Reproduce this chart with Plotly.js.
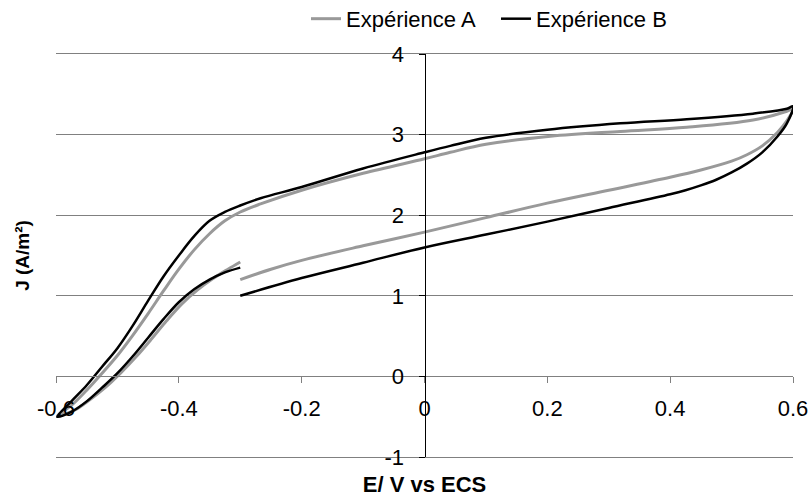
<!DOCTYPE html>
<html>
<head>
<meta charset="utf-8">
<script src="https://cdn.plot.ly/plotly-3.0.1.min.js"></script>
<style>html,body{margin:0;padding:0;background:#fff;}#chart{width:811px;height:497px;}</style>
</head>
<body>
<div id="chart"></div>
<script>
// Expérience A (gray): forward lower branch, return upper branch, forward lower-left
const E_A = [-0.30,-0.25,-0.20,-0.10,0.00,0.10,0.20,0.30,0.40,0.45,0.50,0.525,0.55,0.575,0.59,0.60,
  0.59,0.535,0.427,0.319,0.205,0.10,0.042,0.00,-0.10,-0.20,-0.267,-0.30,-0.325,-0.35,-0.375,-0.40,-0.425,-0.45,-0.475,-0.50,-0.525,-0.55,-0.575,-0.598,
  -0.57,-0.545,-0.52,-0.495,-0.47,-0.445,-0.42,-0.395,-0.37,-0.345,-0.32,-0.30];
const J_A = [1.20,1.33,1.44,1.62,1.79,1.97,2.15,2.31,2.47,2.56,2.67,2.75,2.86,3.03,3.17,3.32,
  3.29,3.18,3.09,3.04,2.98,2.88,2.78,2.70,2.52,2.31,2.14,2.04,1.93,1.77,1.57,1.33,1.06,0.78,0.51,0.26,0.04,-0.17,-0.36,-0.49,
  -0.42,-0.29,-0.14,0.04,0.24,0.46,0.69,0.90,1.07,1.21,1.33,1.42];
// Expérience B (black)
const E_B = [-0.30,-0.20,-0.10,0.00,0.10,0.20,0.30,0.40,0.425,0.45,0.475,0.50,0.525,0.55,0.575,0.59,0.60,
  0.59,0.535,0.427,0.319,0.20,0.10,0.042,0.00,-0.10,-0.20,-0.267,-0.30,-0.325,-0.35,-0.375,-0.40,-0.425,-0.45,-0.475,-0.50,-0.525,-0.55,-0.575,-0.598,
  -0.575,-0.55,-0.525,-0.50,-0.475,-0.45,-0.425,-0.40,-0.375,-0.35,-0.325,-0.30];
const J_B = [1.00,1.22,1.41,1.60,1.76,1.92,2.09,2.26,2.31,2.37,2.44,2.53,2.64,2.78,2.98,3.14,3.35,
  3.32,3.26,3.19,3.14,3.06,2.96,2.86,2.78,2.58,2.35,2.21,2.12,2.04,1.93,1.74,1.50,1.24,0.94,0.63,0.35,0.12,-0.11,-0.31,-0.50,
  -0.44,-0.31,-0.14,0.04,0.25,0.48,0.71,0.92,1.08,1.20,1.29,1.35];

const seriesNames = ['Expérience A', 'Expérience B'];
const xTickVals = [-0.6,-0.4,-0.2,0,0.2,0.4,0.6];
const xTickText = ['-0.6','-0.4','-0.2','0','0.2','0.4','0.6'];
const yTickVals = [-1,0,1,2,3,4];
const yTickText = ['-1','0','1','2','3','4'];
const xTitle = 'E/ V vs ECS';
const yTitle = 'J (A/m²)';
const xRange = [-0.6, 0.6];
const yRange = [-1, 4];

const FONT = 'Liberation Sans, Arial, sans-serif';

const traces = [
  {x: E_A, y: J_A, name: seriesNames[0], type: 'scatter', mode: 'lines', xaxis: 'x', yaxis: 'y',
   line: {color: '#999999', width: 3, shape: 'spline', smoothing: 1}},
  {x: E_B, y: J_B, name: seriesNames[1], type: 'scatter', mode: 'lines', xaxis: 'x2', yaxis: 'y2',
   line: {color: '#000000', width: 2.5, shape: 'spline', smoothing: 1}}
];

const layout = {
  width: 811, height: 497,
  margin: {l: 56, r: 18, t: 54, b: 40, autoexpand: false},
  paper_bgcolor: '#fff', plot_bgcolor: '#fff',
  font: {family: FONT, size: 22, color: '#000'},
  showlegend: true,
  legend: {orientation: 'h', x: 0.3392, xanchor: 'left', yref: 'container', y: 0.962, yanchor: 'middle',
           entrywidth: 145, font: {family: FONT, size: 22, color: '#000'}, bgcolor: 'rgba(0,0,0,0)'},
  xaxis: {range: xRange, showline: true, mirror: true, linecolor: '#808080', linewidth: 1,
          showgrid: false, zeroline: false, showticklabels: false, ticks: '',
          title: {text: '<b>' + xTitle + '</b>', font: {family: FONT, size: 22}, standoff: 20}},
  yaxis: {range: yRange, showline: false, zeroline: false, showticklabels: false, ticks: '',
          showgrid: true, gridcolor: '#808080', gridwidth: 1, tickvals: yTickVals,
          title: {text: '<b>' + yTitle + '</b>', font: {family: FONT, size: 19}, standoff: 20}},
  xaxis2: {overlaying: 'x', anchor: 'free', position: 0.2, range: xRange,
           showline: true, linecolor: '#808080', linewidth: 1, showgrid: false, zeroline: false,
           ticks: 'outside', ticklen: 6, tickcolor: '#808080', tickwidth: 1,
           tickvals: xTickVals, ticktext: xTickText, ticklabelstandoff: 6,
           tickfont: {family: FONT, size: 22, color: '#000'}},
  yaxis2: {overlaying: 'y', anchor: 'free', position: 0.5, range: yRange,
           showline: true, linecolor: '#000', linewidth: 1, showgrid: false, zeroline: false,
           ticks: 'outside', ticklen: 6, tickcolor: '#000', tickwidth: 1,
           tickvals: yTickVals, ticktext: yTickText, ticklabelstandoff: 10,
           tickfont: {family: FONT, size: 22, color: '#000'}}
};

Plotly.newPlot('chart', traces, layout, {staticPlot: true, displayModeBar: false});
</script>
</body>
</html>
